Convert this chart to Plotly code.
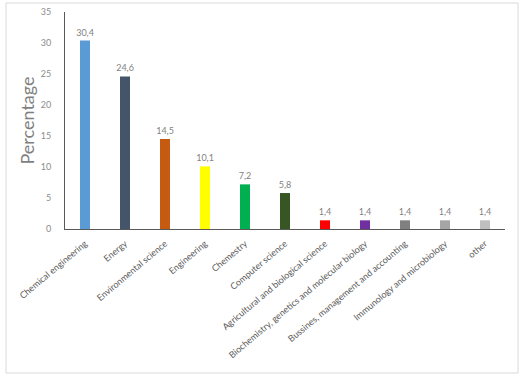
import plotly.graph_objects as go

categories = ["Chemical engineering", "Energy", "Environmental science", "Engineering",
              "Chemestry", "Computer science", "Agricultural and biological science",
              "Biochemistry, genetics and molecular biology",
              "Bussines, management and accounting", "Immunology and microbiology", "other"]
values = [30.4, 24.6, 14.5, 10.1, 7.2, 5.8, 1.4, 1.4, 1.4, 1.4, 1.4]
colors = ["#5B9BD5", "#44546A", "#C55A11", "#FFFF00", "#00B050", "#375623",
          "#FF0000", "#7030A0", "#808080", "#A5A5A5", "#BFBFBF"]
labels = [f"{v:.1f}".replace(".", ",") for v in values]

FONT = "Lato"

fig = go.Figure(go.Bar(
    x=categories, y=values, marker=dict(color=colors, line=dict(width=0)),
    width=0.25, text=labels, textposition="outside", cliponaxis=False,
    textfont=dict(size=9, color="#7F7F7F", family=FONT),
))

L, R, T, B = 65, 20, 12, 150
W, H = 525, 379
pw, ph = W - L - R, H - T - B

fig.update_layout(
    width=W, height=H, margin=dict(l=L, r=R, t=T, b=B, autoexpand=False),
    paper_bgcolor="white", plot_bgcolor="white", showlegend=False,
    font=dict(family=FONT, color="#595959"),
    uniformtext=dict(minsize=9, mode="show"),
    xaxis=dict(tickangle=-40, tickfont=dict(size=9, color="#595959"),
               showline=True, linecolor="#595959", linewidth=1, automargin=False,
               ticks="outside", ticklen=5, tickcolor="rgba(0,0,0,0)",
               showgrid=False),
    yaxis=dict(range=[0, 35], dtick=5, showgrid=False, zeroline=False,
               showline=True, linecolor="#595959", linewidth=1, automargin=False,
               tickfont=dict(size=9, color="#8C8C8C"),
               ticks="outside", ticklen=11, tickcolor="rgba(0,0,0,0)",
               title=dict(text="Percentage", font=dict(size=18, color="#7F7F7F"), standoff=1)),
    shapes=[dict(type="rect", xref="paper", yref="paper",
                 x0=(6 - L) / pw, x1=(518 - L) / pw,
                 y0=(H - B - 373) / ph, y1=(H - B - 3) / ph,
                 line=dict(color="#D9D9D9", width=1), layer="below")],
)

fig.write_html("out.html", config={"displayModeBar": False},
               post_script="document.body.style.margin='0';")
